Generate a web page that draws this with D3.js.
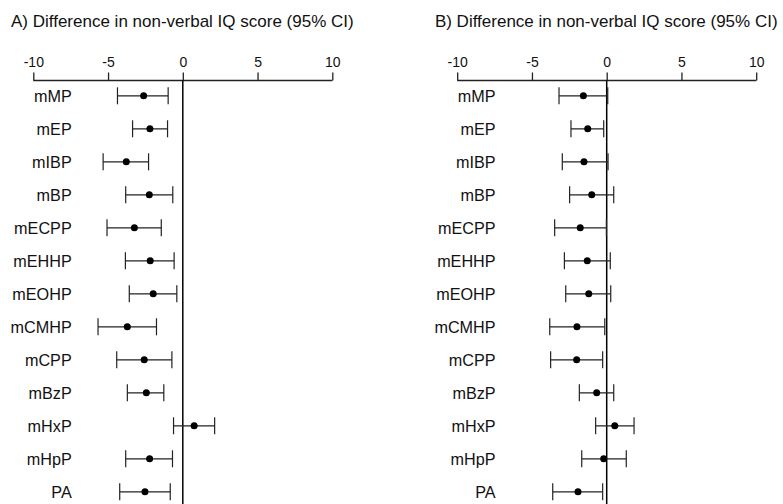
<!DOCTYPE html>
<html>
<head>
<meta charset="utf-8">
<script src="https://cdn.jsdelivr.net/npm/d3@7"></script>
<style>
  html, body { margin: 0; padding: 0; background: #fff; }
  svg { display: block; font-family: "Liberation Sans", Arial, sans-serif; }
</style>
</head>
<body>
<svg id="chart" width="783" height="504"></svg>
<script>
// Exposure labels, top to bottom
const exposures = ["mMP", "mEP", "mIBP", "mBP", "mECPP", "mEHHP", "mEOHP",
                   "mCMHP", "mCPP", "mBzP", "mHxP", "mHpP", "PA"];

// Panel A estimates and 95% CI bounds
const estA  = [-2.62, -2.20, -3.78, -2.24, -3.24, -2.18, -1.98, -3.71, -2.58, -2.44, 0.76, -2.22, -2.53];
const lowA  = [-4.37, -3.36, -5.33, -3.82, -5.07, -3.84, -3.58, -5.67, -4.42, -3.71, -0.62, -3.82, -4.22];
const highA = [-0.98, -1.02, -2.29, -0.67, -1.44, -0.58, -0.40, -1.76, -0.73, -1.27, 2.13, -0.69, -0.84];

// Panel B estimates and 95% CI bounds
const estB  = [-1.56, -1.27, -1.52, -1.00, -1.77, -1.30, -1.20, -1.99, -2.01, -0.67, 0.54, -0.20, -1.92];
const lowB  = [-3.19, -2.39, -2.97, -2.48, -3.48, -2.83, -2.74, -3.81, -3.75, -1.83, -0.74, -1.67, -3.61];
const highB = [ 0.07, -0.20,  0.09,  0.47, -0.02,  0.24,  0.27, -0.13, -0.27,  0.47, 1.83,  1.31, -0.27];

const tickValues = [-10, -5, 0, 5, 10];
const tickLabels = ["-10", "-5", "0", "5", "10"];
const panelTitles = ["A) Difference in non-verbal IQ score (95% CI)",
                     "B) Difference in non-verbal IQ score (95% CI)"];

const svg = d3.select("#chart");

const panels = [
  { title: panelTitles[0], est: estA, low: lowA, high: highA, x0: 33.3 },
  { title: panelTitles[1], est: estB, low: lowB, high: highB, x0: 457.2 }
];

const axisY = 80.5;
const y = d3.scalePoint().domain(exposures).range([95.8, 491.8]);

panels.forEach(p => {
  const x = d3.scaleLinear().domain([-10, 10]).range([p.x0, p.x0 + 299]);
  const g = svg.append("g");

  // Title
  g.append("text")
    .attr("x", p.x0 - 22.3)
    .attr("y", 26.8)
    .attr("font-size", 17)
    .attr("fill", "#111")
    .text(p.title);

  // Top axis with upward ticks
  const axis = d3.axisTop(x).tickValues(tickValues).tickSize(8).tickPadding(6)
    .tickFormat((d, i) => tickLabels[i]);
  const ax = g.append("g").attr("transform", `translate(0,${axisY})`).call(axis);
  ax.select(".domain").attr("d", `M${x(-10)},0H${x(10)}`).attr("stroke", "#222").attr("stroke-width", 1.3);
  ax.selectAll(".tick line").attr("stroke", "#222").attr("stroke-width", 1.3);
  ax.selectAll(".tick text").attr("font-size", 14).attr("fill", "#111")
    .attr("font-family", "'Liberation Sans', Arial, sans-serif");

  // Reference line at zero
  g.append("line")
    .attr("x1", x(0)).attr("x2", x(0))
    .attr("y1", axisY).attr("y2", 504)
    .attr("stroke", "#000").attr("stroke-width", 1.5);

  // Row labels
  g.selectAll("text.lab").data(exposures).join("text")
    .attr("class", "lab")
    .attr("x", p.x0 + 38.4)
    .attr("y", d => y(d))
    .attr("dy", "0.36em")
    .attr("text-anchor", "end")
    .attr("font-size", 16.2)
    .attr("fill", "#111")
    .text(d => d);

  const rows = exposures.map((name, i) => ({ name, est: p.est[i], low: p.low[i], high: p.high[i] }));
  const cap = 8.5;

  const bars = g.selectAll("g.row").data(rows).join("g").attr("class", "row");
  bars.append("line")
    .attr("x1", d => x(d.low)).attr("x2", d => x(d.high))
    .attr("y1", d => y(d.name)).attr("y2", d => y(d.name))
    .attr("stroke", "#222").attr("stroke-width", 1.2);
  bars.append("line")
    .attr("x1", d => x(d.low)).attr("x2", d => x(d.low))
    .attr("y1", d => y(d.name) - cap).attr("y2", d => y(d.name) + cap)
    .attr("stroke", "#222").attr("stroke-width", 1.2);
  bars.append("line")
    .attr("x1", d => x(d.high)).attr("x2", d => x(d.high))
    .attr("y1", d => y(d.name) - cap).attr("y2", d => y(d.name) + cap)
    .attr("stroke", "#222").attr("stroke-width", 1.2);
  bars.append("circle")
    .attr("cx", d => x(d.est)).attr("cy", d => y(d.name))
    .attr("r", 3.5).attr("fill", "#000");
});
</script>
</body>
</html>
